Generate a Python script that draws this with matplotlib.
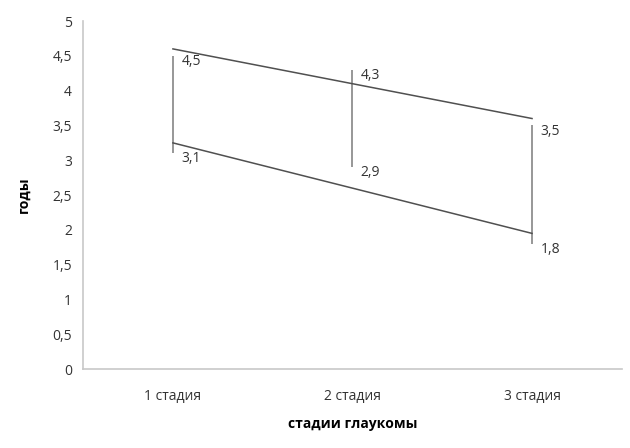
import numpy as np
import matplotlib.pyplot as plt

# --- Data ---
stages = ["1 стадия", "2 стадия", "3 стадия"]
upper = [4.5, 4.3, 3.5]
lower = [3.1, 2.9, 1.8]

plt.rcParams['font.family'] = ['Open Sans', 'DejaVu Sans']

fig = plt.figure(figsize=(6.3, 4.48), dpi=100)
ax = fig.add_axes([0.132, 0.176, 0.855, 0.777])

x = np.arange(1, len(stages) + 1)

# high-low bars for each stage
ax.vlines(x, lower, upper, color="#7a7a7a", lw=1.1)

# linear trend lines through upper and lower values
xs = np.array([x[0], x[-1]])
for series in (upper, lower):
    k, b = np.polyfit(x, series, 1)
    ax.plot(xs, k * xs + b, color="#505050", lw=1.1)

# value labels
def fmt(v):
    return f"{v:.1f}".replace(".", ",")

for xi, hi, lo in zip(x, upper, lower):
    for v in (hi, lo):
        ax.annotate(fmt(v), (xi, v), xytext=(6, -4), textcoords="offset points",
                    ha="left", va="center", fontsize=10, color="#333333")

ax.set_xlim(0.5, 3.5)
ax.set_ylim(0, 5)
ax.set_xticks(x)
ax.set_xticklabels(stages)
yt = np.arange(0, 5.01, 0.5)
ax.set_yticks(yt)
ax.set_yticklabels([("%g" % t).replace(".", ",") for t in yt])
ax.tick_params(length=0, labelsize=10, labelcolor="#333333", pad=8)
ax.tick_params(axis="x", pad=14)

for s in ("top", "right"):
    ax.spines[s].set_visible(False)
for s in ("left", "bottom"):
    ax.spines[s].set_color("#c8c8c8")
    ax.spines[s].set_linewidth(1.2)

ax.set_ylabel("годы", fontsize=10, fontweight="bold", labelpad=16)
ax.set_xlabel("стадии глаукомы", fontsize=10, fontweight="bold", labelpad=10)

fig.savefig("out.png", dpi=100)
